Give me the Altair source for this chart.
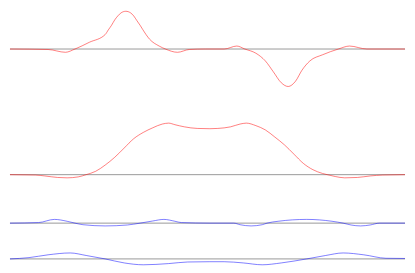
import altair as alt
import pandas as pd

# Panel 1 (red): signal with a positive and a negative peak
p1_x = [0, 40, 58.3, 68.3, 83.3, 100, 103.3, 106.7, 110, 113.3, 116.7, 121.7, 126.7, 130, 133.3,
        136.7, 139.3, 146.7, 156.7, 163.3, 176, 188.3, 205, 225, 238.3, 246.7, 258.3, 268.3,
        276.7, 285, 292.3, 300, 306.7, 315, 328.3, 345, 356.7, 375, 415]
p1_y = [0, -0.5, -3.5, 0, 7.2, 15.5, 20.5, 25.5, 31.2, 35.5, 38.8, 40.5, 38.8, 35.5, 30.5,
        25.5, 21.2, 10.5, 3.2, 0, -3.5, -0.5, 0, 0, 3.2, 0, -4.5, -12.8,
        -24.5, -36.2, -40.2, -34.5, -22.8, -12.8, -6.2, 0, 3.2, 0, 0]

# Panel 2 (red): plateau
p2_x = [0, 26.7, 36.7, 50, 60, 71.7, 80, 90, 100, 110, 120, 130, 140, 150, 160, 166.7, 173.3,
        183.3, 196.7, 210, 218.3, 231.7, 241.7, 248.3, 258.3, 268.3, 278.3, 288.3, 298.3,
        308.3, 318.3, 328.3, 333.3, 341.7, 351.7, 365, 378.3, 391.7, 415]
p2_y = [0, -0.4, -1.4, -3, -3.4, -2.4, 0, 3.6, 10.3, 18.6, 28.6, 38.6, 45.3, 50.3, 54.3, 55.3, 53.6,
        51.3, 49.6, 49.3, 49.6, 51.3, 54.3, 55.3, 52.6, 48, 40.3, 32, 22,
        12, 5.3, 1.3, 0, -2, -3.4, -3, -1.4, -0.4, 0]

# Panel 3 (blue): small oscillation
p3_x = [0, 30, 46.7, 60, 68.3, 76.7, 100, 123.3, 136.7, 150, 161.7, 173.3, 180, 210, 235, 241.7,
        253.3, 265, 270, 281.7, 311.7, 338.3, 350, 358.3, 368.3, 378.3, 388.3, 415]
p3_y = [0, 0.6, 4, 2, 0, -1.7, -3, -2, 0, 2.3, 4, 2, 0.6, 0, 0, -1.7,
        -3, -1.7, 0, 2, 4, 2, 0, -2, -3, -2, 0, 0]

# Panel 4 (blue): slow oscillation
p4_x = [0, 20, 40, 63.3, 80, 100, 120, 140, 166.7, 186.7, 210, 225, 245, 265, 285, 311.7, 331.7,
        350, 371.7, 395, 415]
p4_y = [0, 1.4, 4.4, 6.4, 3.7, 0, -4.3, -6.3, -5, -3.3, -3, -3, -4.3, -6.3, -4.3, 0, 3.7,
        6.4, 4.4, 0.7, 0.5]

colors = ["#ff0000", "#ff0000", "#0000ff", "#0000ff"]
# where each trace's zero line sits, measured from the top of the figure (reference pixels)
baselines = [40.5, 175.3, 227.3, 265.7]
FIG_H = 273
W, H = 399, 257

series = [(p1_x, p1_y), (p2_x, p2_y), (p3_x, p3_y), (p4_x, p4_y)]
xs_scale = alt.Scale(domain=[0, 415], nice=False, zero=False)

layers = []
for (xs, ys), col, b in zip(series, colors, baselines):
    df = pd.DataFrame({"x": xs, "v": ys})
    base = pd.DataFrame({"b": [0], "x0": [0], "x1": [415]})
    ys_scale = alt.Scale(domain=[b - FIG_H, b], nice=False, zero=False)
    rule = alt.Chart(base).mark_rule(color="#999999", strokeWidth=1).encode(
        x=alt.X("x0:Q", scale=xs_scale, axis=None),
        x2="x1:Q",
        y=alt.Y("b:Q", scale=ys_scale, axis=None),
    )
    line = alt.Chart(df).mark_line(color=col, strokeWidth=1, strokeOpacity=0.5,
                                   interpolate="monotone").encode(
        x=alt.X("x:Q", scale=xs_scale, axis=None),
        y=alt.Y("v:Q", scale=ys_scale, axis=None),
    )
    layers.append(alt.layer(rule, line))

chart = (alt.layer(*layers)
         .resolve_scale(y="independent")
         .properties(width=W, height=H, padding=0)
         .configure_view(stroke=None))

chart.save("out.html", embed_options={"renderer": "svg", "actions": False})
